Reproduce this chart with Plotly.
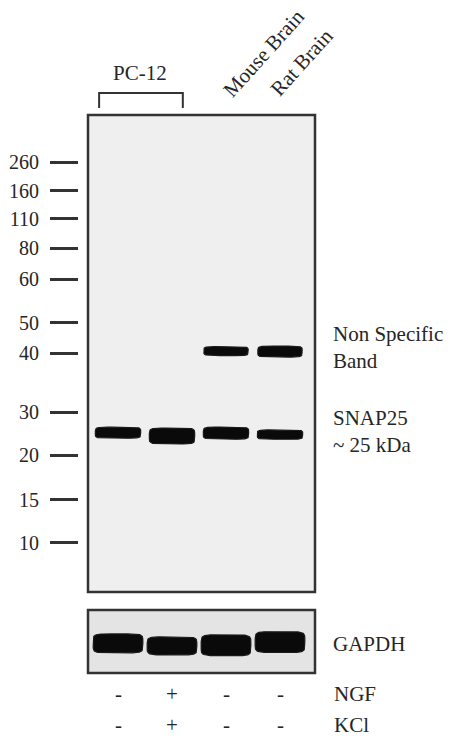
import numpy as np
import plotly.graph_objects as go

# ---------------- data ----------------
lane_names = ["PC-12", "PC-12 NGF/KCl", "Mouse Brain", "Rat Brain"]
lane_idx = [1, 2, 3, 4]
ngf = ["-", "+", "-", "-"]
kcl = ["-", "+", "-", "-"]

ladder_kda = ["260", "160", "110", "80", "60", "50", "40", "30", "20", "15", "10"]
ladder_rf = [0.099, 0.159, 0.218, 0.279, 0.344, 0.436, 0.499, 0.623, 0.713, 0.807, 0.897]

snap25_lanes = [1, 2, 3, 4]
snap25_rf = [0.666, 0.673, 0.667, 0.670]
snap25_signal = [1.0, 1.45, 1.1, 0.85]

nonspec_lanes = [3, 4]
nonspec_rf = [0.495, 0.496]
nonspec_signal = [0.9, 1.1]

gapdh_lanes = [1, 2, 3, 4]
gapdh_rf = [0.53, 0.57, 0.56, 0.51]
gapdh_signal = [1.0, 0.95, 1.1, 1.1]

# ---------------- layout constants ----------------
W, H = 450, 740
FONT = "Liberation Serif"
TXT = "#262626"
main_top, main_bot = 115, 592
gap_top, gap_bot = 610, 673
box_l, box_r = 88, 315
x_range = [0.444, 4.648]


def band_shape(cx, cy, hw, hh, n=6, m=80):
    t = np.linspace(0, 2 * np.pi, m)
    c, s = np.cos(t), np.sin(t)
    x = cx + hw * np.sign(c) * np.abs(c) ** (2 / n)
    y = cy + hh * np.sign(s) * np.abs(s) ** (2 / n)
    return x, y


fig = go.Figure()

main_px = main_bot - main_top
gap_px = gap_bot - gap_top


def add_bands(lanes, rfs, sig, base_px, px_per_unit, hw, xa, ya):
    for ln, rf, s in zip(lanes, rfs, sig):
        hh = base_px * s / 2 / px_per_unit
        x, y = band_shape(ln, rf, hw, hh)
        fig.add_trace(go.Scatter(x=x, y=y, mode="lines", fill="toself",
                                 fillcolor="#0a0a0a",
                                 line=dict(color="#1a1a1a", width=1.2),
                                 hoverinfo="skip", showlegend=False,
                                 xaxis=xa, yaxis=ya))


add_bands(snap25_lanes, snap25_rf, snap25_signal, 11, main_px, 0.42, "x", "y")
add_bands(nonspec_lanes, nonspec_rf, nonspec_signal, 10, main_px, 0.41, "x", "y")
add_bands(gapdh_lanes, gapdh_rf, gapdh_signal, 19, gap_px, 0.46, "x2", "y2")

shapes = [
    dict(type="rect", xref="x domain", yref="y domain", x0=0, x1=1, y0=0, y1=1,
         fillcolor="#efefef", line=dict(color="#333333", width=2.5), layer="below"),
    dict(type="rect", xref="x2 domain", yref="y2 domain", x0=0, x1=1, y0=0, y1=1,
         fillcolor="#e4e4e4", line=dict(color="#333333", width=2.5), layer="below"),
    # bracket over PC-12 lanes
    dict(type="path", xref="x", yref="paper",
         path=f"M 0.65,{1-108/H} L 0.65,{1-93/H} L 2.2,{1-93/H} L 2.2,{1-108/H}",
         line=dict(color="#333333", width=2)),
]

ann = []
f21 = dict(family=FONT, size=21, color=TXT)


def add_text(text, x, y, xref="paper", yref="paper", xanchor="center", **kw):
    ann.append(dict(text=text, x=x, y=y, xref=xref, yref=yref, showarrow=False,
                    font=f21, xanchor=xanchor, yanchor="middle", **kw))


add_text("PC-12", 140 / W, 1 - 73 / H)
add_text(lane_names[2], 264 / W, 1 - 53 / H, textangle=-48)
add_text(lane_names[3], 302 / W, 1 - 62 / H, textangle=-48)
add_text("Non Specific<br>Band", 331 / W, float(np.mean(nonspec_rf)) - 0.008,
         yref="y", xanchor="left", align="left")
add_text("SNAP25<br>~ 25 kDa", 331 / W, float(np.mean(snap25_rf)) - 0.005,
         yref="y", xanchor="left", align="left")
add_text("GAPDH", 331 / W, float(np.mean(gapdh_rf)), yref="y2", xanchor="left")
for ln, a, b in zip(lane_idx, ngf, kcl):
    add_text(a, ln, 1 - 694 / H, xref="x")
    add_text(b, ln, 1 - 725 / H, xref="x")
add_text("NGF", 332 / W, 1 - 694 / H, xanchor="left")
add_text("KCl", 332 / W, 1 - 725 / H, xanchor="left")

fig.update_layout(
    width=W, height=H, margin=dict(l=0, r=0, t=0, b=0),
    paper_bgcolor="white", plot_bgcolor="rgba(0,0,0,0)",
    showlegend=False, shapes=shapes, annotations=ann,
    xaxis=dict(domain=[box_l / W, box_r / W], range=x_range, visible=False,
               anchor="y", fixedrange=True),
    yaxis=dict(domain=[1 - main_bot / H, 1 - main_top / H], range=[1, 0],
               anchor="free", position=78 / W, showgrid=False, zeroline=False,
               showline=False, ticks="outside", ticklen=28, tickwidth=3,
               tickcolor="#333333", tickvals=ladder_rf, ticktext=ladder_kda,
               tickfont=dict(family=FONT, size=20, color=TXT),
               ticklabelstandoff=7, fixedrange=True),
    xaxis2=dict(domain=[box_l / W, box_r / W], range=x_range, visible=False,
                anchor="y2", matches="x", fixedrange=True),
    yaxis2=dict(domain=[1 - gap_bot / H, 1 - gap_top / H], range=[1, 0],
                visible=False, anchor="x2", fixedrange=True),
)

fig.write_html("out.html", config={"displayModeBar": False},
               post_script="document.body.style.margin='0';document.body.style.overflow='hidden';")
